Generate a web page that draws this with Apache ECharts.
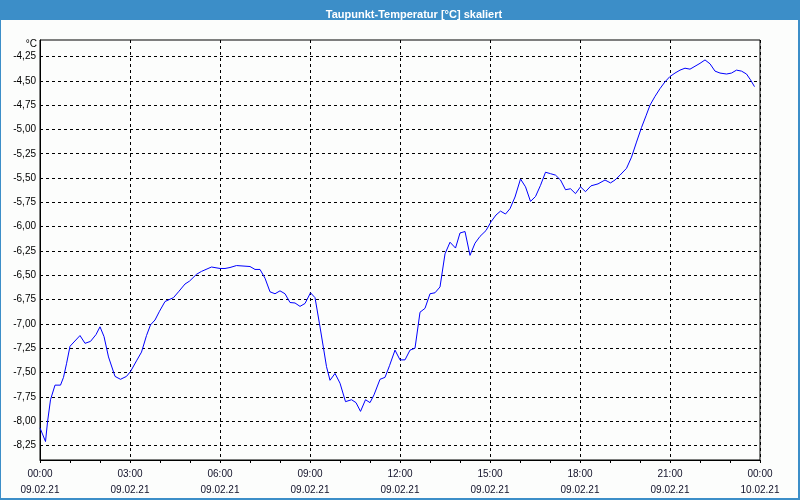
<!DOCTYPE html>
<html>
<head>
<meta charset="utf-8">
<script src="https://cdn.jsdelivr.net/npm/echarts@6/dist/echarts.min.js"></script>
<style>
html,body{margin:0;padding:0;background:#fcfdfc;}
#chart{width:800px;height:500px;}
</style>
</head>
<body>
<div id="chart"></div>
<script>
// Minutes since 09.02.21 00:00
const times = [0,11,15,21,30,41,47,53,60,80,90,101,112,120,128,137,150,161,173,181,193,203,213,221,230,239,250,267,277,290,299,313,323,343,360,370,380,393,420,430,440,450,460,470,480,490,500,510,520,530,541,550,559,567,573,580,590,600,611,623,632,641,651,660,668,680,690,699,710,720,730,740,750,760,770,780,790,800,810,820,831,840,850,860,870,880,892,902,912,921,931,940,950,961,971,981,991,1001,1011,1021,1031,1041,1051,1061,1071,1081,1091,1102,1116,1130,1141,1150,1160,1173,1183,1193,1203,1212,1220,1230,1240,1250,1260,1270,1280,1290,1300,1310,1320,1330,1340,1350,1360,1373,1383,1393,1403,1413,1421,1429];
// Dew point temperature, °C
const values = [-8.07,-8.21,-8.01,-7.78,-7.63,-7.63,-7.55,-7.41,-7.23,-7.12,-7.20,-7.18,-7.11,-7.03,-7.13,-7.34,-7.54,-7.57,-7.54,-7.49,-7.38,-7.29,-7.12,-7.01,-6.96,-6.87,-6.77,-6.73,-6.67,-6.59,-6.56,-6.49,-6.46,-6.415,-6.43,-6.43,-6.42,-6.40,-6.41,-6.44,-6.44,-6.53,-6.67,-6.69,-6.66,-6.69,-6.78,-6.785,-6.82,-6.79,-6.68,-6.73,-7.00,-7.25,-7.44,-7.58,-7.51,-7.61,-7.80,-7.78,-7.81,-7.90,-7.78,-7.81,-7.73,-7.57,-7.55,-7.43,-7.27,-7.37,-7.37,-7.27,-7.25,-6.88,-6.84,-6.69,-6.68,-6.62,-6.28,-6.16,-6.22,-6.065,-6.05,-6.295,-6.17,-6.10,-6.04,-5.95,-5.88,-5.84,-5.87,-5.815,-5.695,-5.51,-5.59,-5.74,-5.69,-5.575,-5.44,-5.455,-5.47,-5.52,-5.62,-5.61,-5.66,-5.59,-5.64,-5.58,-5.56,-5.52,-5.55,-5.52,-5.47,-5.40,-5.285,-5.13,-4.98,-4.86,-4.75,-4.66,-4.58,-4.51,-4.455,-4.42,-4.39,-4.37,-4.38,-4.35,-4.32,-4.285,-4.325,-4.40,-4.42,-4.43,-4.42,-4.39,-4.40,-4.43,-4.49,-4.56];
const yTicks = [-4.25,-4.5,-4.75,-5,-5.25,-5.5,-5.75,-6,-6.25,-6.5,-6.75,-7,-7.25,-7.5,-7.75,-8,-8.25];
const xTickMinutes = [0,180,360,540,720,900,1080,1260,1440];
const xTimeLabels = ['00:00','03:00','06:00','09:00','12:00','15:00','18:00','21:00','00:00'];
const xDateLabels = ['09.02.21','09.02.21','09.02.21','09.02.21','09.02.21','09.02.21','09.02.21','09.02.21','10.02.21'];
const titleText = 'Taupunkt-Temperatur [°C] skaliert';

const blue = '#3c8ec8';
const font = 'Liberation Sans';
const chart = echarts.init(document.getElementById('chart'), null, {renderer:'canvas'});
chart.setOption({
  animation: false,
  backgroundColor: '#fcfdfc',
  graphic: [
    {type:'rect', shape:{x:0,y:0,width:800,height:20}, style:{fill:blue}, z:-1},
    {type:'rect', shape:{x:0,y:0,width:1,height:500}, style:{fill:blue}, z:-1},
    {type:'rect', shape:{x:798,y:0,width:2,height:500}, style:{fill:blue}, z:-1},
    {type:'rect', shape:{x:0,y:498,width:800,height:2}, style:{fill:blue}, z:-1}
  ],
  title: {
    text: titleText,
    left: 409, top: 4,
    textAlign: 'center',
    textStyle: {color:'#ffffff', fontFamily: font, fontSize: 11, fontWeight: 'bold'}
  },
  grid: {
    left: 40, right: 40, top: 40, bottom: 40,
    show: true, borderColor: '#000', borderWidth: 1, backgroundColor: 'transparent'
  },
  xAxis: {
    type: 'value', min: 0, max: 1440, interval: 180,
    axisLine: {show: true, onZero: false, lineStyle: {color:'#000', width:1}},
    axisTick: {show: true, length: 3, lineStyle: {color:'#000'}},
    minorTick: {show: true, splitNumber: 3, length: 3, lineStyle: {color:'#000'}},
    splitLine: {show: true, lineStyle: {color:'#000', type:[3,3], width:1}},
    axisLabel: {
      margin: 6, color:'#101028', fontFamily: font, fontSize: 10, lineHeight: 16,
      formatter: function (v) {
        const i = xTickMinutes.indexOf(v);
        return i < 0 ? '' : xTimeLabels[i] + '\n' + xDateLabels[i];
      }
    }
  },
  yAxis: {
    type: 'value', min: -8.40, max: -4.08,
    name: '°C', nameLocation: 'end', nameGap: -4,
    nameTextStyle: {align:'right', verticalAlign:'middle', padding:[0,3,0,0], color:'#000', fontFamily: font, fontSize: 10},
    axisLine: {show: true, lineStyle: {color:'#000', width:1}},
    axisTick: {show: false, customValues: yTicks},
    splitLine: {show: true, lineStyle: {color:'#000', type:[3,3], width:1}},
    axisLabel: {
      customValues: yTicks, margin: 4, color:'#000', fontFamily: font, fontSize: 10,
      formatter: function (v) { return v.toFixed(2).replace('.', ','); }
    }
  },
  series: [{
    type: 'line',
    data: times.map((t, i) => [t, values[i]]),
    showSymbol: false, symbol: 'none',
    lineStyle: {color:'#0000ff', width:1},
    clip: false
  }]
});
</script>
</body>
</html>
